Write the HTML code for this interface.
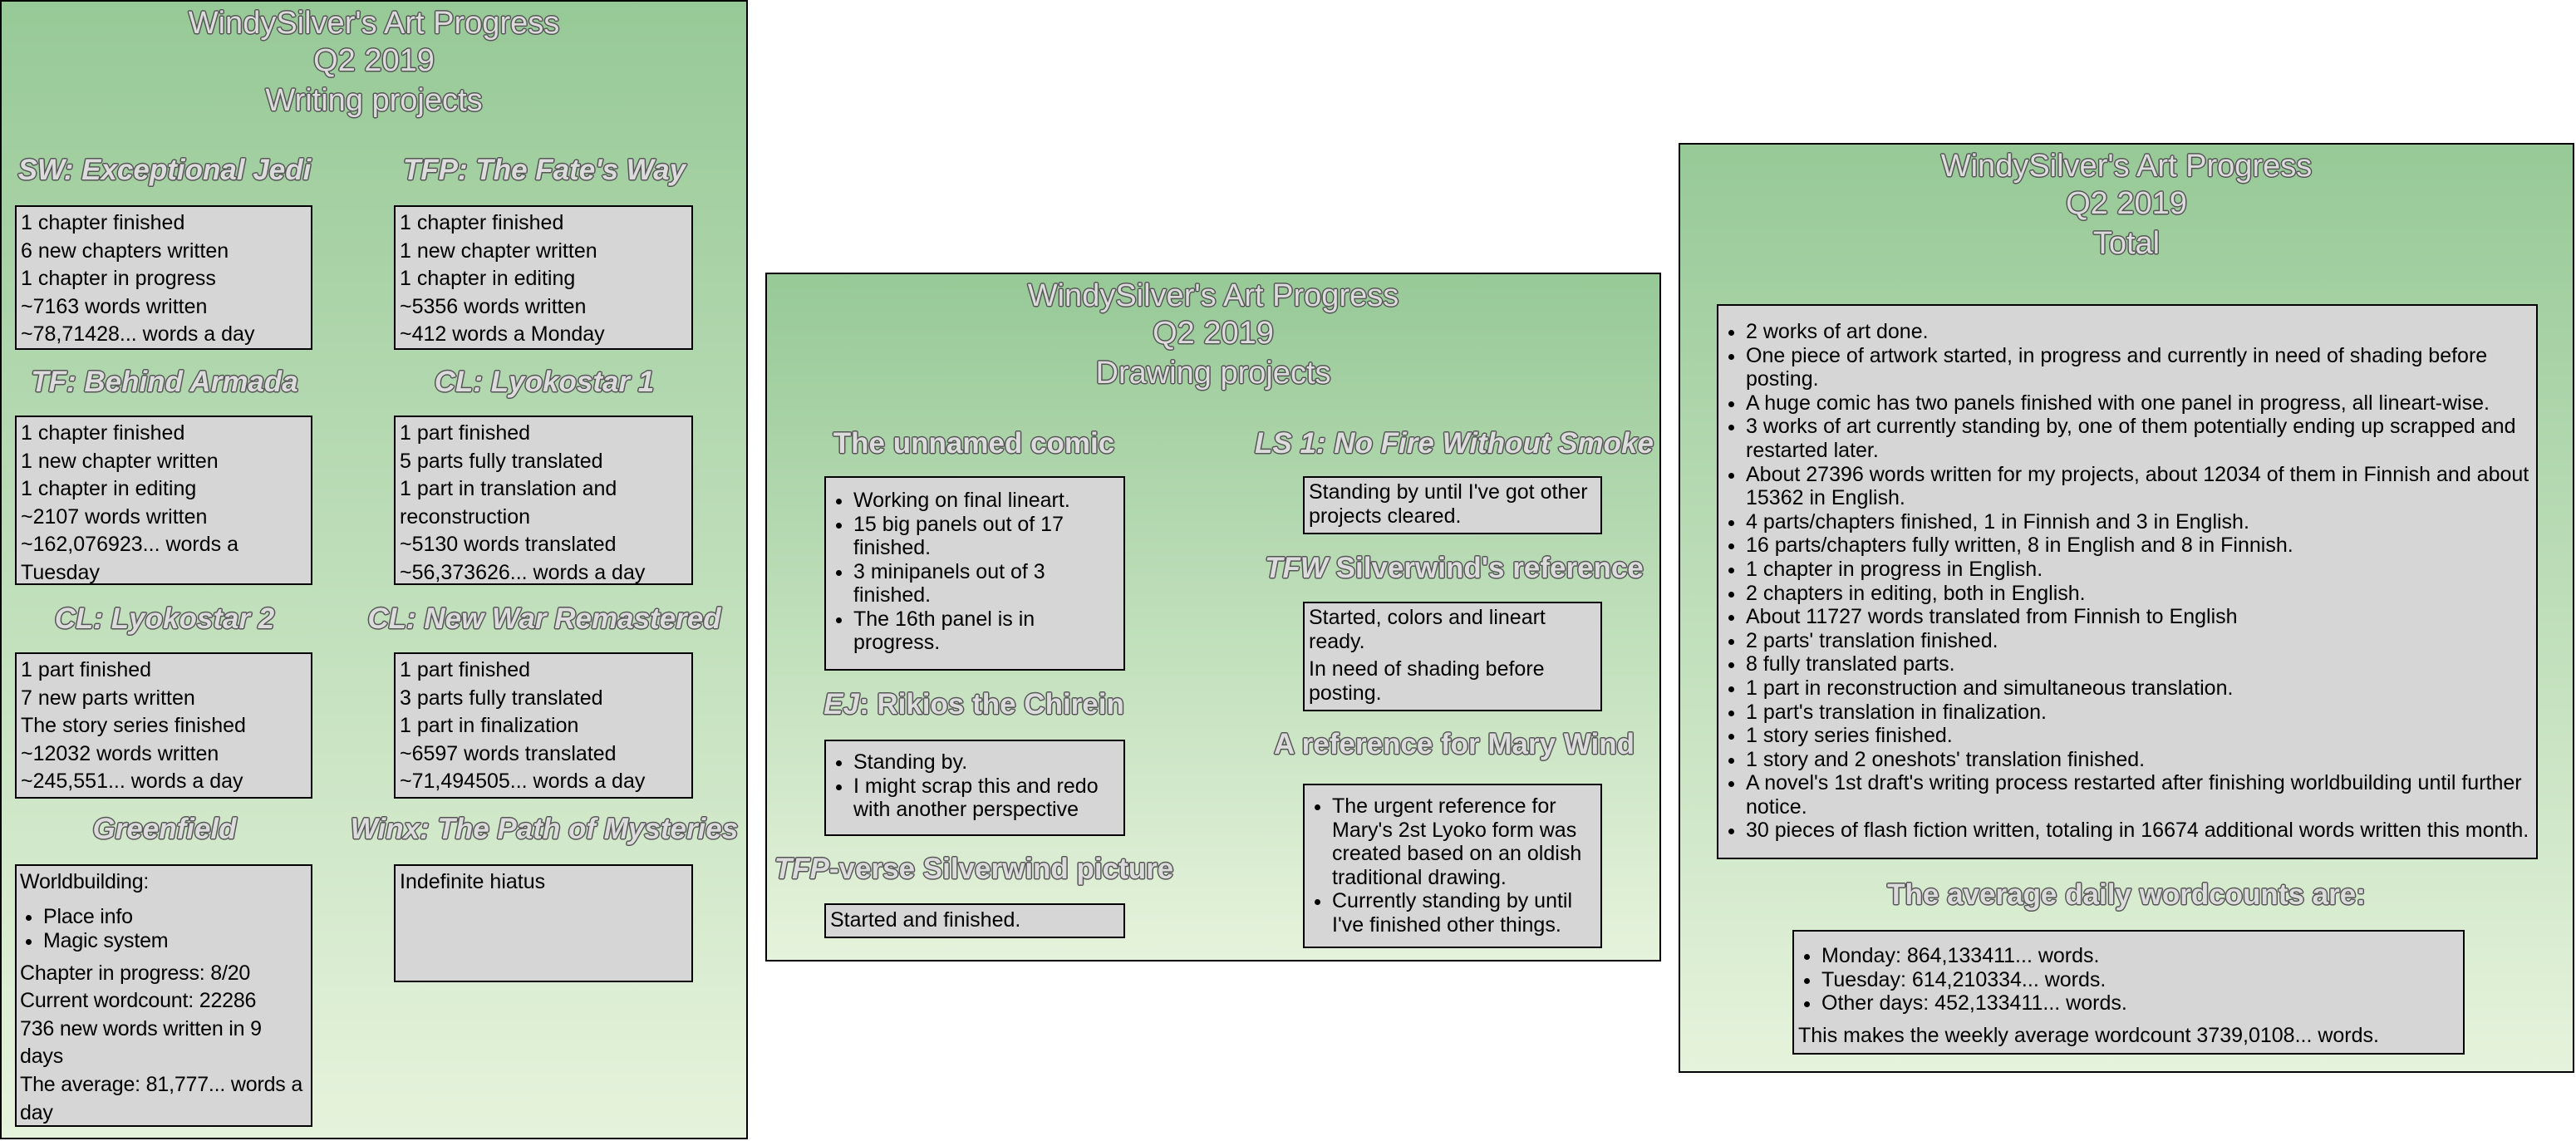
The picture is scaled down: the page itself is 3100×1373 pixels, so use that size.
<!DOCTYPE html>
<html><head><meta charset="utf-8"><style>
*{margin:0;padding:0;box-sizing:border-box}
body{width:3100px;height:1373px;background:#fff;position:relative;overflow:hidden;font-family:"Liberation Sans",Arial,sans-serif;color:#000}
.p{position:absolute;border:2px solid #000;background:linear-gradient(#97c997,#e6f3dc)}
.t,.h{position:absolute;text-align:center;color:#dcdcdc;white-space:nowrap;
text-shadow:1.5px 0 #555,-1.5px 0 #555,0 1.5px #555,0 -1.5px #555,1px 1px #555,-1px -1px #555,1px -1px #555,-1px 1px #555}
.t{font-size:38px;line-height:46px}
.h{font-size:35px;line-height:42px;font-weight:bold}
.i{font-style:italic}
.b{position:absolute;border:2px solid #000;background:#d6d6d6;font-size:25px;line-height:33.6px;padding:3px 5px;overflow:hidden}
.b ul{margin:6px 0 6px 0;padding-left:28px}
.b3{line-height:28.5px;font-size:25px}
</style></head><body>

<div class="p" style="left:0;top:0;width:900px;height:1371px"></div>
<div class="t" style="left:0;width:900px;top:5px">WindySilver's Art Progress</div>
<div class="t" style="left:0;width:900px;top:50px">Q2 2019</div>
<div class="t" style="left:0;width:900px;top:98px">Writing projects</div>

<div class="h i" style="left:0;width:396px;top:184px">SW: Exceptional Jedi</div>
<div class="h i" style="left:455px;width:400px;top:184px">TFP: The Fate's Way</div>
<div class="b" style="left:18px;top:247px;width:358px;height:174px">1 chapter finished<br>6 new chapters written<br>1 chapter in progress<br>~7163 words written<br>~78,71428... words a day</div>
<div class="b" style="left:474px;top:247px;width:360px;height:174px">1 chapter finished<br>1 new chapter written<br>1 chapter in editing<br>~5356 words written<br>~412 words a Monday</div>

<div class="h i" style="left:0;width:396px;top:439px">TF: Behind Armada</div>
<div class="h i" style="left:455px;width:400px;top:439px">CL: Lyokostar 1</div>
<div class="b" style="left:18px;top:500px;width:358px;height:204px">1 chapter finished<br>1 new chapter written<br>1 chapter in editing<br>~2107 words written<br>~162,076923... words a Tuesday</div>
<div class="b" style="left:474px;top:500px;width:360px;height:204px">1 part finished<br>5 parts fully translated<br>1 part in translation and reconstruction<br>~5130 words translated<br>~56,373626... words a day</div>

<div class="h i" style="left:0;width:396px;top:724px">CL: Lyokostar 2</div>
<div class="h i" style="left:415px;width:480px;top:724px">CL: New War Remastered</div>
<div class="b" style="left:18px;top:785px;width:358px;height:176px">1 part finished<br>7 new parts written<br>The story series finished<br>~12032 words written<br>~245,551... words a day</div>
<div class="b" style="left:474px;top:785px;width:360px;height:176px">1 part finished<br>3 parts fully translated<br>1 part in finalization<br>~6597 words translated<br>~71,494505... words a day</div>

<div class="h i" style="left:0;width:396px;top:977px">Greenfield</div>
<div class="h i" style="left:400px;width:510px;top:977px">Winx: The Path of Mysteries</div>
<div class="b" style="left:18px;top:1040px;width:358px;height:316px;padding:3px 0 3px 4px;letter-spacing:-0.2px;white-space:nowrap">Worldbuilding:<ul style="line-height:29px;margin:10px 0 8px 0"><li>Place info</li><li>Magic system</li></ul>Chapter in progress: 8/20<br>Current wordcount: 22286<br>736 new words written in 9<br>days<br>The average: 81,777... words a<br>day</div>
<div class="b" style="left:474px;top:1040px;width:360px;height:142px">Indefinite hiatus</div>

<div class="p" style="left:921px;top:328px;width:1078px;height:829px"></div>
<div class="t" style="left:921px;width:1078px;top:333px">WindySilver's Art Progress</div>
<div class="t" style="left:921px;width:1078px;top:378px">Q2 2019</div>
<div class="t" style="left:921px;width:1078px;top:426px">Drawing projects</div>

<div class="h" style="left:972px;width:400px;top:513px">The unnamed comic</div>
<div class="h i" style="left:1490px;width:520px;top:513px">LS 1: No Fire Without Smoke</div>
<div class="b b3" style="left:992px;top:573px;width:362px;height:234px"><ul style="margin:10px 0"><li>Working on final lineart.</li><li>15 big panels out of 17 finished.</li><li>3 minipanels out of 3 finished.</li><li>The 16th panel is in progress.</li></ul></div>
<div class="b" style="left:1568px;top:573px;width:360px;height:70px;line-height:29px">Standing by until I've got other projects cleared.</div>

<div class="h" style="left:1500px;width:500px;top:663px"><span class="i">TFW</span> Silverwind's reference</div>
<div class="b" style="left:1568px;top:724px;width:360px;height:132px;line-height:29px">Started, colors and lineart ready.<br><span style="display:block;margin-top:4px">In need of shading before posting.</span></div>

<div class="h" style="left:972px;width:400px;top:827px"><span class="i">EJ</span>: Rikios the Chirein</div>
<div class="b b3" style="left:992px;top:890px;width:362px;height:116px"><ul style="margin:8px 0"><li>Standing by.</li><li>I might scrap this and redo with another perspective</li></ul></div>

<div class="h" style="left:1500px;width:500px;top:875px">A reference for Mary Wind</div>
<div class="b b3" style="left:1568px;top:943px;width:360px;height:198px"><ul style="margin:8px 0"><li>The urgent reference for Mary's 2st Lyoko form was created based on an oldish traditional drawing.</li><li>Currently standing by until I've finished other things.</li></ul></div>

<div class="h" style="left:912px;width:520px;top:1025px"><span class="i">TFP</span>-verse Silverwind picture</div>
<div class="b" style="left:992px;top:1087px;width:362px;height:42px;line-height:29px;padding-top:4px">Started and finished.</div>

<div class="p" style="left:2020px;top:172px;width:1078px;height:1119px"></div>
<div class="t" style="left:2020px;width:1078px;top:177px">WindySilver's Art Progress</div>
<div class="t" style="left:2020px;width:1078px;top:222px">Q2 2019</div>
<div class="t" style="left:2020px;width:1078px;top:270px">Total</div>

<div class="b b3" style="left:2066px;top:366px;width:988px;height:668px;padding-right:2px;line-height:28.6px"><ul style="margin:14px 0"><li>2 works of art done.</li><li>One piece of artwork started, in progress and currently in need of shading before posting.</li><li>A huge comic has two panels finished with one panel in progress, all lineart-wise.</li><li>3 works of art currently standing by, one of them potentially ending up scrapped and restarted later.</li><li>About 27396 words written for my projects, about 12034 of them in Finnish and about 15362 in English.</li><li>4 parts/chapters finished, 1 in Finnish and 3 in English.</li><li>16 parts/chapters fully written, 8 in English and 8 in Finnish.</li><li>1 chapter in progress in English.</li><li>2 chapters in editing, both in English.</li><li>About 11727 words translated from Finnish to English</li><li>2 parts' translation finished.</li><li>8 fully translated parts.</li><li>1 part in reconstruction and simultaneous translation.</li><li>1 part's translation in finalization.</li><li>1 story series finished.</li><li>1 story and 2 oneshots' translation finished.</li><li>A novel's 1st draft's writing process restarted after finishing worldbuilding until further notice.</li><li>30 pieces of flash fiction written, totaling in 16674 additional words written this month.</li></ul></div>

<div class="h" style="left:2020px;width:1078px;top:1056px">The average daily wordcounts are:</div>
<div class="b b3" style="left:2157px;top:1119px;width:809px;height:150px"><ul style="margin:12px 0 10px 0"><li>Monday: 864,133411... words.</li><li>Tuesday: 614,210334... words.</li><li>Other days: 452,133411... words.</li></ul>This makes the weekly average wordcount 3739,0108... words.</div>

</body></html>
